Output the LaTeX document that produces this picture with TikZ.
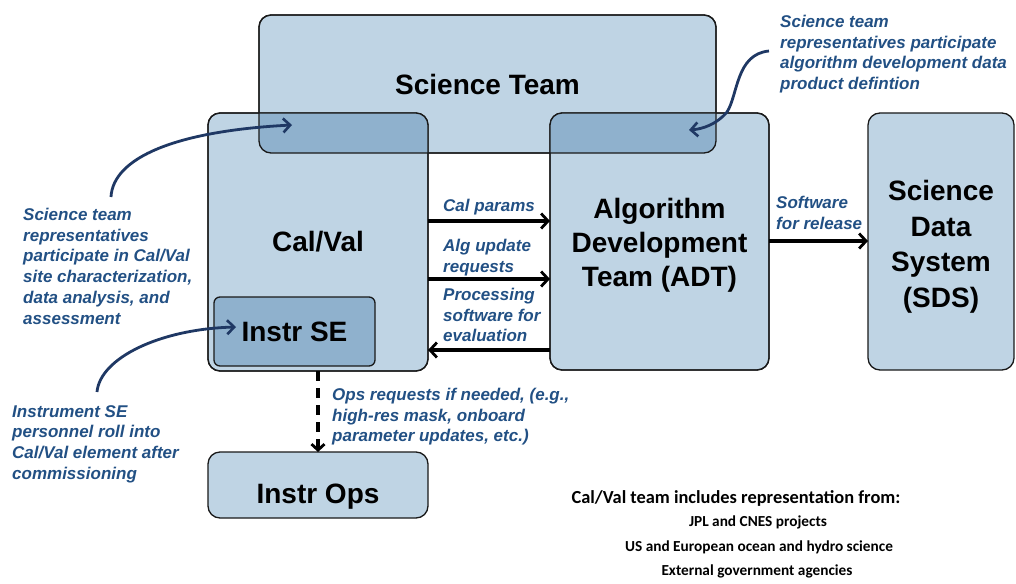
\documentclass[tikz,border=0pt]{standalone}
\usepackage{fontspec}
\setmainfont{Liberation Sans}
\newfontfamily\calibri{Carlito}
\usetikzlibrary{arrows.meta}

\definecolor{boxfill}{RGB}{191,212,228}
\definecolor{overlapfill}{RGB}{143,177,205}
\definecolor{notecol}{RGB}{34,80,132}
\definecolor{curvecol}{RGB}{31,56,100}
\definecolor{edgecol}{RGB}{25,25,25}

\begin{document}
\begin{tikzpicture}[x=1pt,y=-1pt,
  box/.style={draw=edgecol, line width=1.3pt, fill=boxfill, rounded corners=12pt,
    inner sep=0pt, outer sep=0pt, align=center,
    font=\fontsize{28}{34}\selectfont\bfseries},
  note/.style={text=notecol, font=\fontsize{17}{20.7}\selectfont\bfseries\itshape,
    align=left, inner sep=0pt, anchor=north west},
  flow/.style={line width=3.2pt, black, -{Straight Barb[length=7pt, width=15pt, line width=2.8pt]}},
  pointer/.style={curvecol, line width=2.8pt, -{Straight Barb[length=7pt, width=14pt, line width=2.6pt]}},
  roster/.style={inner sep=0pt, anchor=base},
]
\useasboundingbox (0,0) rectangle (1016,583);

% main boxes
\node[box, minimum width=457pt, minimum height=138pt] (st) at (487.5,84) {Science Team};
\node[box, minimum width=220pt, minimum height=258pt] (cv) at (318,242) {Cal/Val};
\node[box, minimum width=219pt, minimum height=257pt] (adt) at (659.5,241.5)
  {\rule{0pt}{27pt}Algorithm\\Development\\Team (ADT)};
\node[box, minimum width=146pt, minimum height=257pt, font=\fontsize{28}{35.5}\selectfont\bfseries]
  (sds) at (941,241.5) {\rule{0pt}{30.5pt}Science\\Data\\System\\(SDS)};

% shared region of the science team with Cal/Val and ADT
\begin{scope}
  \clip[rounded corners=12pt] (st.north west) rectangle (st.south east);
  \fill[overlapfill, rounded corners=12pt] (cv.north west) rectangle (cv.south east);
  \fill[overlapfill, rounded corners=12pt] (adt.north west) rectangle (adt.south east);
\end{scope}
\draw[edgecol, line width=1.3pt, rounded corners=12pt] (st.north west) rectangle (st.south east);
\draw[edgecol, line width=1.3pt, rounded corners=12pt] (cv.north west) rectangle (cv.south east);
\draw[edgecol, line width=1.3pt, rounded corners=12pt] (adt.north west) rectangle (adt.south east);

\node[box, fill=overlapfill, rounded corners=6pt, minimum width=161pt, minimum height=69pt]
  (ise) at (294.5,331.5) {Instr SE};
\node[box, minimum width=220pt, minimum height=66pt] (ops) at (318,485)
  {\raisebox{-11pt}[20pt][6pt]{Instr Ops}};

% flows between elements
\draw[flow] (cv.east |- 0,221) -- (adt.west |- 0,221);
\draw[flow] (cv.east |- 0,279) -- (adt.west |- 0,279);
\draw[flow] (adt.west |- 0,350) -- (cv.east |- 0,350);
\draw[flow] (adt.east |- 0,241) -- (sds.west |- 0,241);
\draw[line width=3.2pt, black, dash pattern=on 10pt off 7pt,
  -{Straight Barb[length=6pt, width=13pt, line width=2.8pt]}] (cv.south) -- (ops.north);

% flow labels
\node[note] (lcal) at (443,199) {Cal params};
\node[note] (lalg) at (443,239) {Alg update\\requests};
\node[note] (lproc) at (443,288) {Processing\\software for\\evaluation};
\node[note] (lrel) at (776,196) {Software\\for release};
\node[note] (lops) at (332,388) {Ops requests if needed, (e.g.,\\high-res mask, onboard\\parameter updates, etc.)};

% annotations
\node[note] (nst) at (23,208) {Science team\\representatives\\participate in Cal/Val\\site characterization,\\data analysis, and\\assessment};
\node[note] (nse) at (12,405) {Instrument SE\\personnel roll into\\Cal/Val element after\\commissioning};
\node[note] (nadt) at (780,15) {Science team\\representatives participate\\algorithm development data\\product defintion};

\coordinate (p1) at (111,197);
\coordinate (t1) at (292,125);
\coordinate (p2) at (97,392);
\coordinate (t2) at (236,327);
\coordinate (p3) at (769,51);
\coordinate (t3) at (689,130);
\draw[pointer] (p1) .. controls (113,158) and (175,131) .. (t1);
\draw[pointer] (p2) .. controls (100,358) and (160,329) .. (t2);
\draw[pointer] (p3) .. controls (736,54) and (738,95) .. (727,112)
  .. controls (717,124) and (703,129) .. (t3);

% participation roster
\node[roster, font=\calibri\bfseries\fontsize{18.4}{22}\selectfont] (r0) at (736,503) {Cal/Val team includes representation from:};
\node[roster, font=\calibri\bfseries\fontsize{15.3}{18}\selectfont] (r1) at (758,526) {JPL and CNES projects};
\node[roster, font=\calibri\bfseries\fontsize{15.3}{18}\selectfont] (r2) at (759,551) {US and European ocean and hydro science};
\node[roster, font=\calibri\bfseries\fontsize{15.3}{18}\selectfont] (r3) at (757,575) {External government agencies};
\end{tikzpicture}
\end{document}
